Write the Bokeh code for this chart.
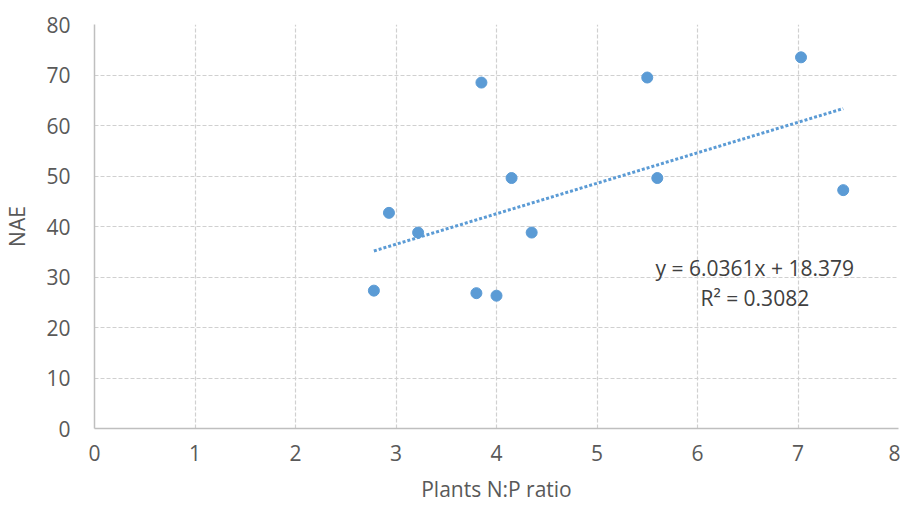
from bokeh.plotting import figure
from bokeh.models import Range1d, FixedTicker, ColumnDataSource
from bokeh.core.properties import value
from bokeh.embed import file_html
from bokeh.resources import INLINE

np_ratio = [2.78, 2.93, 3.22, 3.85, 3.80, 4.00, 4.15, 4.35, 5.50, 5.60, 7.03, 7.45]
nae = [27.3, 42.7, 38.8, 68.5, 26.8, 26.3, 49.6, 38.8, 69.5, 49.6, 73.5, 47.2]

slope = 6.0361
intercept = 18.379
r2 = 0.3082
trend_x = [min(np_ratio), max(np_ratio)]
trend_y = [slope * x + intercept for x in trend_x]

eq_label = ["y = 6.0361x + 18.379", "R\u00b2 = 0.3082"]
eq_x = [6.57, 6.57]
eq_y = [31.7, 25.9]

x_ticks = [0, 1, 2, 3, 4, 5, 6, 7, 8]
y_ticks = [0, 10, 20, 30, 40, 50, 60, 70, 80]

FONT = "Open Sans"
TXT = "#595959"
BLUE = "#5b9bd5"

p = figure(width=900, height=505, output_backend="svg", toolbar_location=None,
           x_range=Range1d(0, 8), y_range=Range1d(0, 80),
           min_border_left=93, min_border_right=2, min_border_top=24, min_border_bottom=60)
p.outline_line_color = None
p.background_fill_color = "white"
p.border_fill_color = "white"

for ax in (p.xaxis[0], p.yaxis[0]):
    ax.major_tick_line_color = None
    ax.minor_tick_line_color = None
    ax.axis_line_color = "#bfbfbf"
    ax.axis_line_width = 1.5
    ax.major_label_text_font = FONT
    ax.major_label_text_font_size = "21px"
    ax.major_label_text_color = TXT
    ax.axis_label_text_font = FONT
    ax.axis_label_text_font_size = "21px"
    ax.axis_label_text_font_style = "normal"
    ax.axis_label_text_color = TXT

p.xaxis.ticker = FixedTicker(ticks=x_ticks)
p.yaxis.ticker = FixedTicker(ticks=y_ticks)
p.xaxis.axis_label = "Plants N:P ratio"
p.yaxis.axis_label = "NAE"
p.xaxis.major_label_standoff = 10
p.yaxis.major_label_standoff = 18
p.xaxis.axis_label_standoff = 11
p.yaxis.axis_label_standoff = 12

for g in (p.xgrid[0], p.ygrid[0]):
    g.grid_line_color = "#d0d0d0"
    g.grid_line_dash = "4 2"
    g.grid_line_width = 1.2

p.line(trend_x, trend_y, line_color=BLUE, line_width=3, line_dash="3 2")
p.scatter(np_ratio, nae, size=11, fill_color=BLUE, line_color=BLUE)

src = ColumnDataSource(dict(x=eq_x, y=eq_y, t=eq_label))
p.text(x="x", y="y", text="t", source=src, text_align="center", text_baseline="middle",
       text_font=value(FONT), text_font_size="21px", text_color="#404040")

open("out.html", "w").write(file_html(p, INLINE))
